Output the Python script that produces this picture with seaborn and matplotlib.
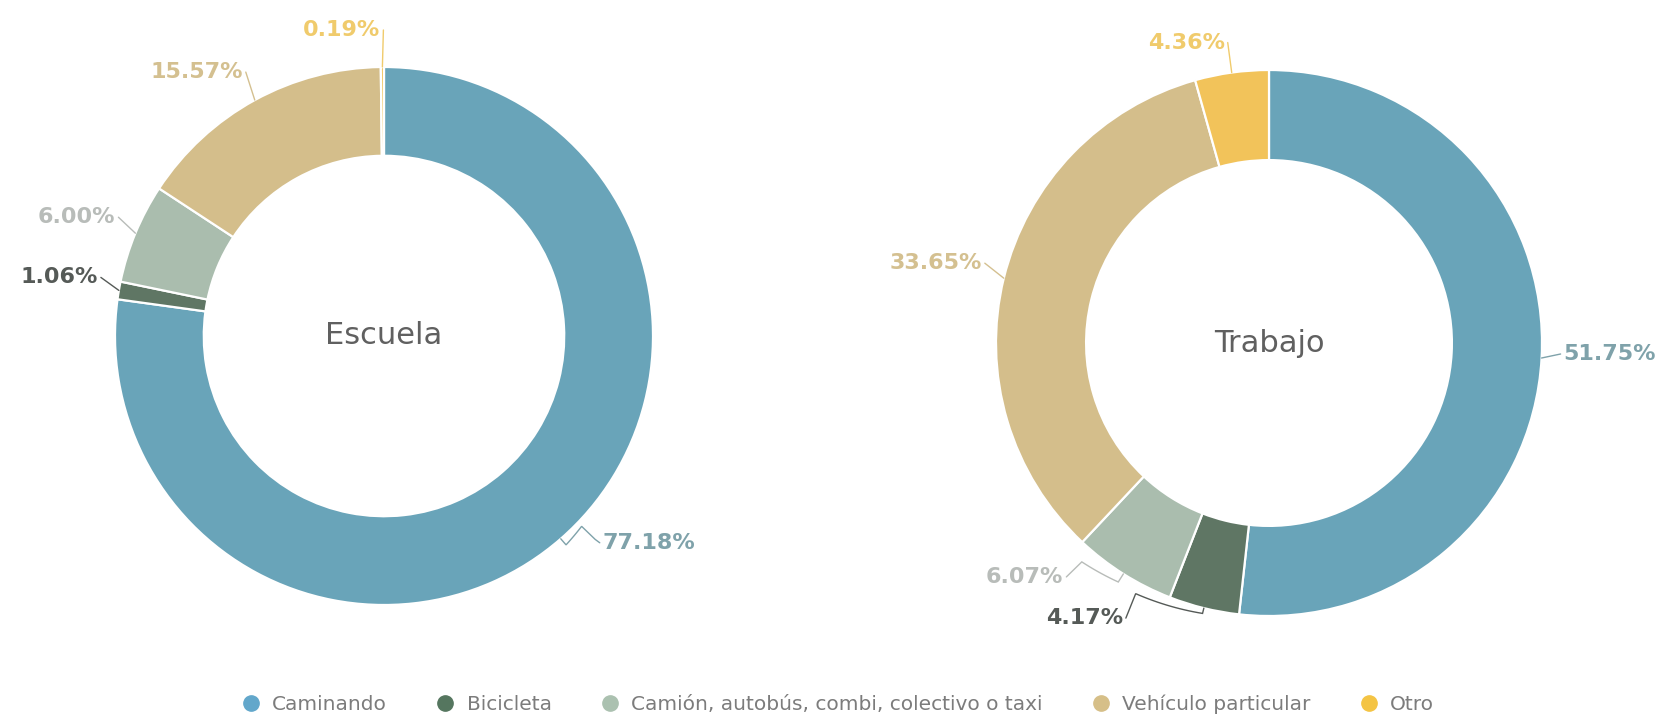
import matplotlib
matplotlib.use("Agg")
import matplotlib.pyplot as plt
from matplotlib.lines import Line2D
import numpy as np
import seaborn as sns

# Data
categories = ["Caminando", "Bicicleta", "Camión, autobús, combi, colectivo o taxi",
              "Vehículo particular", "Otro"]
escuela = [77.18, 1.06, 6.00, 15.57, 0.19]
trabajo = [51.75, 4.17, 6.07, 33.65, 4.36]
titles = ["Escuela", "Trabajo"]

# Style
sns.set_theme(style="white")
plt.rcParams["font.family"] = ["DejaVu Sans"]
slice_colors = sns.color_palette(["#69a4b9", "#5f7664", "#aabdae", "#d4be8b", "#f2c35a"])
label_colors = ["#7fa2aa", "#555a57", "#b8bcb9", "#d4c090", "#f0cb6c"]
legend_colors = ["#62a7cb", "#55765f", "#abc1b0", "#d6bf88", "#f4c444"]

W, H = 1665, 721
fig = plt.figure(figsize=(W / 100, H / 100), dpi=100)
fig.patch.set_facecolor("white")

# ring centres and outer radii in pixels
rings = [(384, 336, 269), (1269, 343, 273)]

# label placement: text offset in pixels from the wedge's outer edge, alignment,
# and leader waypoints as (angle shift in degrees, radius) around the ring
layout = [
    [dict(off=(42, -4), ha="left", path=[(0, 1.03), (5, 1.02), (5, 1.09)]),
     dict(off=(-21, 13), ha="right", path=[]),
     dict(off=(-20, 16), ha="right", path=[]),
     dict(off=(-12, 28), ha="right", path=[]),
     dict(off=(-2, 37), ha="right", path=[])],
    [dict(off=(22, 4), ha="left", path=[]),
     dict(off=(-81, -10), ha="right", path=[(0, 1.02), (-14.2, 1.04)]),
     dict(off=(-60, -3), ha="right", path=[(0, 1.035), (-8.3, 1.055)]),
     dict(off=(-22, 15), ha="right", path=[]),
     dict(off=(-7, 30), ha="right", path=[])],
]

for k, (values, title) in enumerate(zip([escuela, trabajo], titles)):
    cx, cy, r = rings[k]
    ax = fig.add_axes([(cx - r) / W, (H - cy - r) / H, 2 * r / W, 2 * r / H])
    wedges, _ = ax.pie(values, colors=slice_colors, startangle=90, counterclock=False,
                       radius=1.0, wedgeprops=dict(width=0.33, edgecolor="white", linewidth=1.6))
    ax.set_xlim(-1, 1)
    ax.set_ylim(-1, 1)
    ax.set_aspect("equal")
    ax.axis("off")
    ax.text(0, 0, title, ha="center", va="center", fontsize=22, color="#606060",
            fontweight="normal")
    for i, (w, v) in enumerate(zip(wedges, values)):
        mid = (w.theta1 + w.theta2) / 2
        spec = layout[k][i]
        # leader line: start at the wedge edge, follow the waypoints around the ring
        pts = [(mid, 1.0)] + [(mid + d, rr) for d, rr in spec["path"]]
        xs, ys = [], []
        for (a0, r0), (a1, r1) in zip(pts[:-1], pts[1:]):
            n = max(2, int(abs(a1 - a0)) + 2)
            aa = np.deg2rad(np.linspace(a0, a1, n))
            rr = np.linspace(r0, r1, n)
            xs += list(rr * np.cos(aa))
            ys += list(rr * np.sin(aa))
        if not xs:
            xs, ys = [np.cos(np.deg2rad(mid))], [np.sin(np.deg2rad(mid))]
        ax0 = np.cos(np.deg2rad(mid))
        ay0 = np.sin(np.deg2rad(mid))
        dx, dy = spec["off"]
        tx, ty = ax0 + dx / r, ay0 + dy / r
        gap = 3 / r if spec["ha"] == "left" else -3 / r
        xs.append(tx - gap)
        ys.append(ty)
        ax.plot(xs, ys, color=label_colors[i], lw=1.0, clip_on=False,
                solid_joinstyle="miter")
        ax.text(tx, ty, f"{v:.2f}%", ha=spec["ha"], va="center", fontsize=16,
                fontweight="bold", color=label_colors[i], clip_on=False)

handles = [Line2D([0], [0], marker="o", linestyle="", markersize=11,
                  markerfacecolor=c, markeredgecolor=c) for c in legend_colors]
fig.legend(handles, categories, loc="center", bbox_to_anchor=(0.5, 1 - 704 / H),
           ncol=5, frameon=False, handletextpad=0.05, columnspacing=1.9,
           labelcolor="#7c7c7c", prop=dict(size=14.5, weight="normal"))

fig.savefig("out.png", dpi=100, facecolor="white")
